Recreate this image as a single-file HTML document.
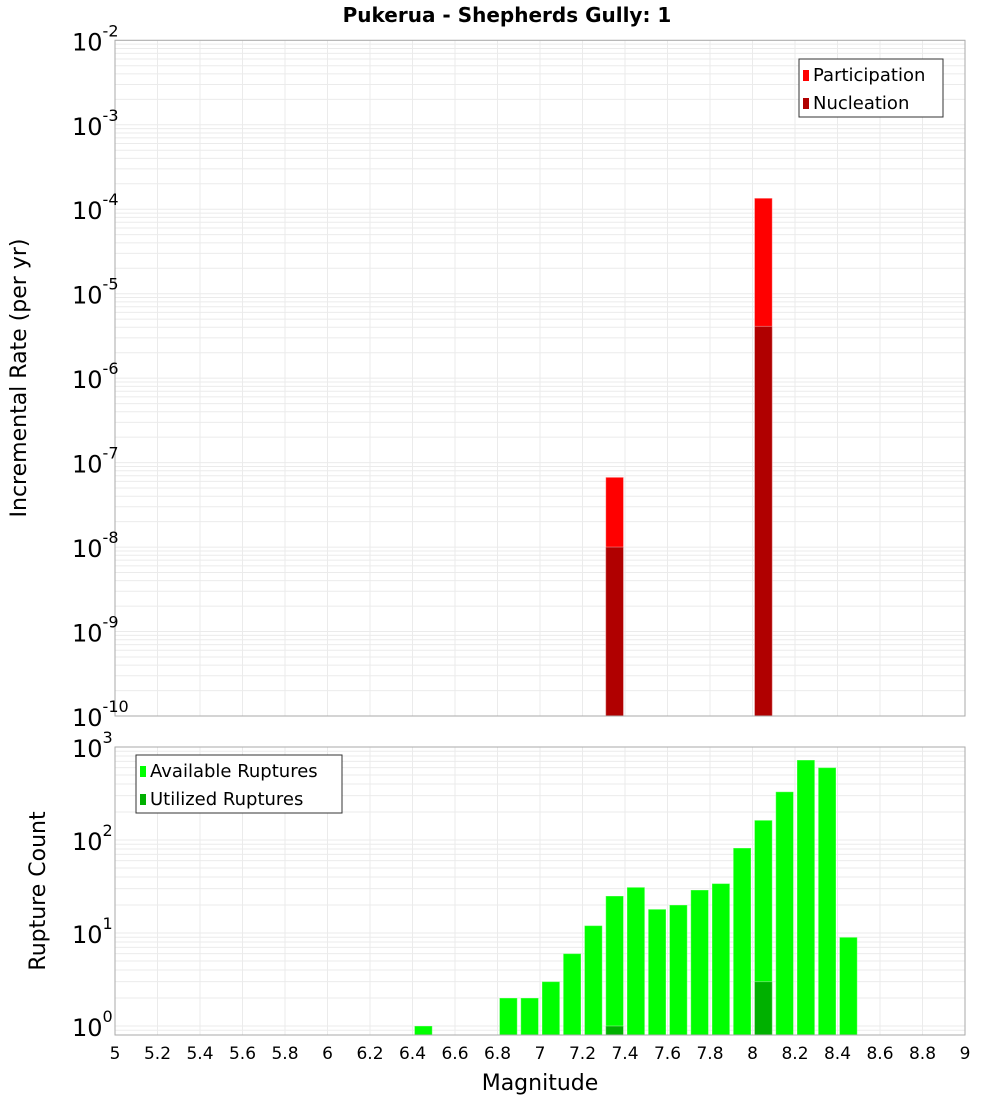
<!DOCTYPE html>
<html><head><meta charset="utf-8"><style>
body{margin:0;background:#fff;width:1000px;height:1100px;overflow:hidden;font-family:"DejaVu Sans","Liberation Sans",sans-serif}
</style></head><body>
<svg id="svg" width="1000" height="1100" xmlns="http://www.w3.org/2000/svg">
<text x="507" y="22" text-anchor="middle" font-size="20" font-weight="bold">Pukerua - Shepherds Gully: 1</text>
<g id="topPanel"></g>
<g id="botPanel"></g>
<text x="26" y="378" transform="rotate(-90 26 378)" text-anchor="middle" font-size="22">Incremental Rate (per yr)</text>
<text x="45" y="891" transform="rotate(-90 45 891)" text-anchor="middle" font-size="22">Rupture Count</text>
<text x="540" y="1090" text-anchor="middle" font-size="22">Magnitude</text>
</svg>
<script>
const rateMags=[7.35,8.05];
const participation=[6.7e-8,1.35e-4];
const nucleation=[1.0e-8,4.1e-6];
const countMags=[6.45,6.85,6.95,7.05,7.15,7.25,7.35,7.45,7.55,7.65,7.75,7.85,7.95,8.05,8.15,8.25,8.35,8.45];
const available=[1,2,2,3,6,12,25,31,18,20,29,34,82,163,330,724,600,9];
const utilMags=[7.35,8.05];
const utilized=[1,3];
const xTicks=[5,5.2,5.4,5.6,5.8,6,6.2,6.4,6.6,6.8,7,7.2,7.4,7.6,7.8,8,8.2,8.4,8.6,8.8,9];
const rateExps=[-10,-9,-8,-7,-6,-5,-4,-3,-2];
const countExps=[0,1,2,3];

const NS="http://www.w3.org/2000/svg";
const PL=115,PR=965;
const xs=m=>PL+(m-5)/4*(PR-PL);
const T1=40.3,B1=716;
const yR=v=>B1-(Math.log10(v)+10)*(B1-T1)/8;
const T2=747,B2=1035,D2=93;
const yC=v=>1026-Math.log10(v)*D2;
function mk(p,tag,a){const e=document.createElementNS(NS,tag);for(const k in a)e.setAttribute(k,a[k]);p.appendChild(e);return e;}
const topG=document.getElementById('topPanel'),botG=document.getElementById('botPanel');

function grid(g,T,B,ymap,lo,hi){
  for(let e=lo;e<hi;e++)for(let k=1;k<10;k++){const y=ymap(k*Math.pow(10,e));if(y<T-0.5||y>B+0.5)continue;
    const l=mk(g,'line',{x1:PL,x2:PR,y1:y,y2:y,stroke:'#ebebeb','stroke-width':1});
    
    }
  xTicks.forEach(t=>{const l=mk(g,'line',{x1:xs(t),x2:xs(t),y1:T,y2:B,stroke:'#ebebeb','stroke-width':1});
    
    });
}
grid(topG,T1,B1,yR,-10,-1);
grid(botG,T2,B2,yC,-1,3);

function bar(g,m,v,ymap,B,fill,name){
  const x0=xs(m-0.05)+2,x1=xs(m+0.05)-1.5,y=ymap(v);
  const r=mk(g,'rect',{x:x0,y:y,width:x1-x0,height:B-y,fill:fill,stroke:'rgba(255,255,255,0.35)','stroke-width':1});
  
  
}
rateMags.forEach((m,i)=>bar(topG,m,participation[i],yR,B1,'#ff0000','participation-bar'));
rateMags.forEach((m,i)=>bar(topG,m,nucleation[i],yR,B1,'#b00000','nucleation-bar'));
countMags.forEach((m,i)=>bar(botG,m,available[i],yC,B2,'#00ff00','available-bar'));
utilMags.forEach((m,i)=>bar(botG,m,utilized[i],yC,B2,'#00b000','utilized-bar'));

const f1=mk(topG,'rect',{x:PL,y:T1,width:PR-PL,height:B1-T1,fill:'none',stroke:'#aaa','stroke-width':1});


const f2=mk(botG,'rect',{x:PL,y:T2,width:PR-PL,height:B2-T2,fill:'none',stroke:'#aaa','stroke-width':1});



const svg=document.getElementById('svg');
function pow(g,y,e,name){
  const t=mk(g,'text',{x:72,y:y,'font-size':24});
  
  
  t.appendChild(document.createTextNode('10'));
  const s=mk(t,'tspan',{dy:-14,'font-size':16});s.textContent=String(e);
}
rateExps.forEach(e=>pow(svg,yR(Math.pow(10,e))+10,e,'y-tick-rate'));
countExps.forEach(e=>pow(svg,yC(Math.pow(10,e))+10,e,'y-tick-count'));
xTicks.forEach(t=>{const e=mk(svg,'text',{x:xs(t),y:1059,'text-anchor':'middle','font-size':17});
  
  
  e.textContent=String(t);});

function legend(g,lx,ly,w,items){
  const b=mk(g,'rect',{x:lx,y:ly,width:w,height:58,fill:'#fff',stroke:'#333','stroke-width':1});
  
  
  items.forEach((it,i)=>{
    const s=mk(g,'rect',{x:lx+4,y:ly+11+i*28,width:6,height:11,fill:it[1]});
    
    
    const t=mk(g,'text',{x:lx+14,y:ly+22+i*28,'font-size':18});
    
    
    t.textContent=it[0];});
}
legend(topG,799,59,144,[['Participation','#ff0000'],['Nucleation','#b00000']]);
legend(botG,136,755,206,[['Available Ruptures','#00ff00'],['Utilized Ruptures','#00b000']]);
</script>
</body></html>
